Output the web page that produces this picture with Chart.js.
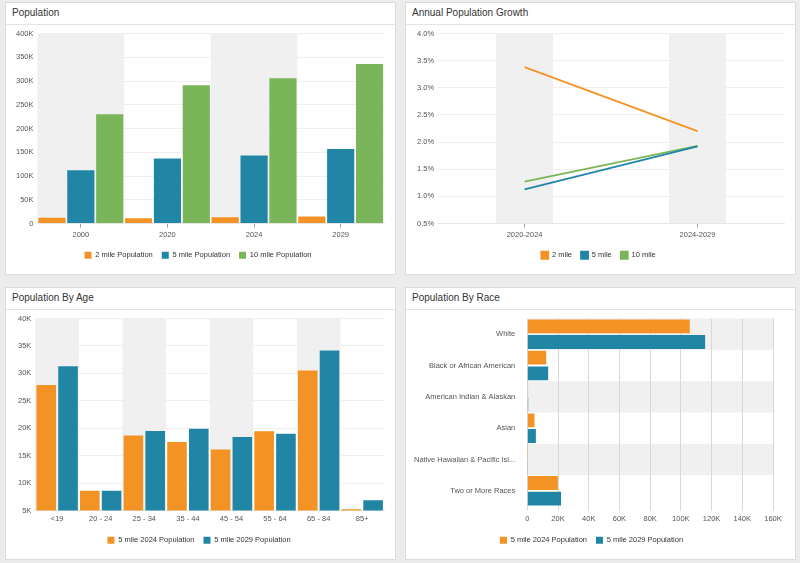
<!DOCTYPE html>
<html>
<head>
<meta charset="utf-8">
<script src="https://cdn.jsdelivr.net/npm/chart.js@4.4.1/dist/chart.umd.min.js"></script>
<style>
  body { margin: 0; background: #ececec; font-family: "Liberation Sans", Arial, sans-serif; }
  .panel { position: absolute; background: #fff; border: 1px solid #dcdcdc; box-sizing: border-box; }
  .panel h3 { margin: 0; height: 21px; line-height: 20px; padding-left: 6px; font-size: 10px; font-weight: normal; color: #333; border-bottom: 1px solid #e4e4e4; }
  .box { position: absolute; left: 0; right: 0; top: 22px; bottom: 0; }
</style>
</head>
<body>
<div class="panel" style="left:5px;top:2px;width:391px;height:273px">
  <h3>Population</h3><div class="box"><canvas id="popChart"></canvas></div>
</div>
<div class="panel" style="left:405px;top:2px;width:391px;height:273px">
  <h3>Annual Population Growth</h3><div class="box"><canvas id="growthChart"></canvas></div>
</div>
<div class="panel" style="left:5px;top:287px;width:391px;height:273px">
  <h3>Population By Age</h3><div class="box"><canvas id="ageChart"></canvas></div>
</div>
<div class="panel" style="left:405px;top:287px;width:391px;height:273px">
  <h3>Population By Race</h3><div class="box"><canvas id="raceChart"></canvas></div>
</div>
<script>
// colours
const ORANGE = '#f39325';
const BLUE = '#2186a6';
const GREEN = '#7bb55a';

// population
const popYears = ['2000', '2020', '2024', '2029'];
const pop2mile = [12000, 11000, 13000, 15000];
const pop5mile = [112000, 137000, 143000, 157000];
const pop10mile = [230000, 291000, 306000, 336000];

// annual growth (%)
const growthPeriods = ['2020-2024', '2024-2029'];
const growth2mile = [3.38, 2.2];
const growth5mile = [1.13, 1.92];
const growth10mile = [1.27, 1.93];

// age
const ageGroups = ['<19', '20 - 24', '25 - 34', '35 - 44', '45 - 54', '55 - 64', '65 - 84', '85+'];
const age2024 = [27900, 8600, 18650, 17500, 16100, 19450, 30500, 5250];
const age2029 = [31300, 8600, 19500, 19900, 18400, 19000, 34150, 6850];

// race
const raceGroups = ['White', 'Black or African American', 'American Indian & Alaskan', 'Asian', 'Native Hawaiian & Pacific Isl...', 'Two or More Races'];
const race2024 = [105800, 12300, 500, 4700, 100, 19900];
const race2029 = [115800, 13600, 600, 5600, 150, 22000];

Chart.defaults.font.family = '"Liberation Sans", Arial, sans-serif';
Chart.defaults.font.size = 7.5;
Chart.defaults.color = '#555';
Chart.defaults.animation = false;
Chart.defaults.maintainAspectRatio = false;
Chart.defaults.responsive = true;

// grey bands behind every other category
const bandPlugin = {
  id: 'bands',
  beforeDraw(chart, args, opts) {
    const ctx = chart.ctx;
    const area = chart.chartArea;
    const horizontal = chart.options.indexAxis === 'y';
    const scale = horizontal ? chart.scales.y : chart.scales.x;
    const n = chart.data.labels.length;
    const frac = opts.fraction || 1;
    const every = opts.every || 2;
    const step = (horizontal ? area.bottom - area.top : area.right - area.left) / n;
    ctx.save();
    ctx.fillStyle = '#f0f0f0';
    for (let i = 0; i < n; i += every) {
      const c = scale.getPixelForValue(i);
      const w = step * frac;
      if (horizontal) ctx.fillRect(area.left, c - w / 2, area.right - area.left, w);
      else ctx.fillRect(c - w / 2, area.top, w, area.bottom - area.top);
    }
    ctx.restore();
  }
};
Chart.register(bandPlugin);

const kFmt = (v) => v === 0 ? '0' : (v / 1000) + 'K';
const legendOpts = {
  position: 'bottom',
  labels: { boxWidth: 7, boxHeight: 7, padding: 9, color: '#333', font: { size: 7.5 } }
};
const catAxis = {
  grid: { display: true, drawOnChartArea: false, offset: false, tickLength: 4, color: '#999' },
  border: { color: '#e6e6e6' },
  ticks: { padding: 3 }
};
const valGrid = { color: '#efefef', drawTicks: false };

new Chart(document.getElementById('popChart'), {
  type: 'bar',
  data: {
    labels: popYears,
    datasets: [
      { label: '2 mile Population', data: pop2mile, backgroundColor: ORANGE },
      { label: '5 mile Population', data: pop5mile, backgroundColor: BLUE },
      { label: '10 mile Population', data: pop10mile, backgroundColor: GREEN }
    ]
  },
  options: {
    layout: { padding: { left: 6, right: 11, top: 8, bottom: 5 } },
    datasets: { bar: { barPercentage: 0.94, categoryPercentage: 1 } },
    plugins: { legend: legendOpts, tooltip: { enabled: false }, bands: { fraction: 1 } },
    scales: {
      x: catAxis,
      y: {
        min: 0, max: 400000,
        ticks: { stepSize: 50000, callback: kFmt, padding: 4 },
        grid: valGrid,
        border: { display: false }
      }
    }
  }
});

new Chart(document.getElementById('growthChart'), {
  type: 'line',
  data: {
    labels: growthPeriods,
    datasets: [
      { label: '2 mile', data: growth2mile, borderColor: ORANGE, backgroundColor: ORANGE },
      { label: '5 mile', data: growth5mile, borderColor: BLUE, backgroundColor: BLUE },
      { label: '10 mile', data: growth10mile, borderColor: GREEN, backgroundColor: GREEN }
    ]
  },
  options: {
    layout: { padding: { left: 7, right: 11, top: 8, bottom: 5 } },
    elements: { point: { radius: 0 }, line: { borderWidth: 1.8 } },
    plugins: { legend: legendOpts, tooltip: { enabled: false }, bands: { fraction: 0.33, every: 1 } },
    scales: {
      x: Object.assign({}, catAxis, { offset: true }),
      y: {
        min: 0.5, max: 4.0,
        ticks: { stepSize: 0.5, callback: (v) => v.toFixed(1) + '%', padding: 4 },
        grid: valGrid,
        border: { display: false }
      }
    }
  }
});

new Chart(document.getElementById('ageChart'), {
  type: 'bar',
  data: {
    labels: ageGroups,
    datasets: [
      { label: '5 mile 2024 Population', data: age2024, backgroundColor: ORANGE },
      { label: '5 mile 2029 Population', data: age2029, backgroundColor: BLUE }
    ]
  },
  options: {
    layout: { padding: { left: 8, right: 11, top: 6, bottom: 5 } },
    datasets: { bar: { barPercentage: 0.9, categoryPercentage: 1 } },
    plugins: { legend: legendOpts, tooltip: { enabled: false }, bands: { fraction: 1 } },
    scales: {
      x: {
        grid: { display: true, drawOnChartArea: false, drawTicks: false, color: 'rgba(0,0,0,0)' },
        border: { color: '#e6e6e6' },
        ticks: { padding: 4 }
      },
      y: {
        min: 5000, max: 40000,
        ticks: { stepSize: 5000, callback: kFmt, padding: 4 },
        grid: valGrid,
        border: { display: false }
      }
    }
  }
});

new Chart(document.getElementById('raceChart'), {
  type: 'bar',
  data: {
    labels: raceGroups,
    datasets: [
      { label: '5 mile 2024 Population', data: race2024, backgroundColor: ORANGE },
      { label: '5 mile 2029 Population', data: race2029, backgroundColor: BLUE }
    ]
  },
  options: {
    indexAxis: 'y',
    layout: { padding: { left: 4, right: 22, top: 3, bottom: 5 } },
    datasets: { bar: { barPercentage: 0.88, categoryPercentage: 1 } },
    plugins: { legend: legendOpts, tooltip: { enabled: false }, bands: { fraction: 1 } },
    scales: {
      x: {
        min: 0, max: 160000,
        ticks: { stepSize: 20000, callback: kFmt, padding: 4, maxRotation: 0, autoSkip: false },
        grid: { color: '#d8d8d8', tickLength: 4 },
        border: { display: false }
      },
      y: {
        grid: { display: false },
        border: { display: false },
        ticks: { padding: 4, autoSkip: false }
      }
    }
  }
});
</script>
</body>
</html>
